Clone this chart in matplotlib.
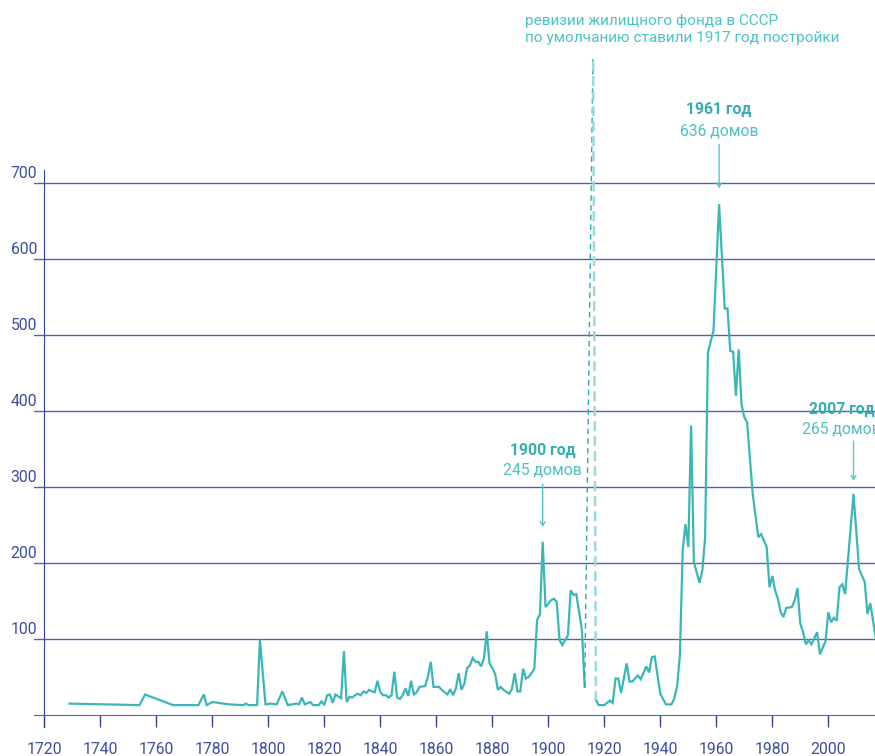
import numpy as np
import matplotlib
matplotlib.use("Agg")
import matplotlib.pyplot as plt
from matplotlib.transforms import ScaledTranslation

plt.rcParams['font.family'] = ['Roboto', 'DejaVu Sans']

# houses built per year, before the 1917 default-year spike
years_before = [1729, 1754, 1756, 1766, 1775, 1777, 1778, 1780, 1786, 1791, 1792, 1793,
                1796, 1797, 1799, 1801, 1803, 1805, 1807, 1810, 1811, 1812, 1813, 1815,
                1816, 1818, 1819, 1820, 1821, 1822, 1823, 1824, 1826, 1827, 1828, 1829,
                1830, 1831, 1832, 1833, 1834, 1835, 1836, 1837, 1838, 1839, 1840, 1841,
                1842, 1843, 1844, 1845, 1846, 1847, 1848, 1849, 1850, 1851, 1852, 1853,
                1854, 1856, 1857, 1858, 1859, 1861, 1862, 1864, 1865, 1866, 1867, 1868,
                1869, 1870, 1871, 1872, 1873, 1874, 1875, 1876, 1877, 1878, 1879, 1880,
                1881, 1882, 1883, 1884, 1886, 1887, 1888, 1889, 1890, 1891, 1892, 1893,
                1894, 1895, 1896, 1897, 1898, 1899, 1901, 1902, 1903, 1904, 1905, 1907,
                1908, 1909, 1910, 1912, 1913]
houses_before = [15, 13, 27, 13, 13, 27, 13, 17, 14, 13, 15, 13,
                 13, 99, 14, 15, 14, 31, 13, 15, 14, 23, 14, 17,
                 13, 13, 18, 13, 26, 27, 16, 27, 22, 84, 17, 24,
                 23, 26, 28, 26, 31, 29, 33, 31, 30, 45, 30, 26,
                 26, 23, 26, 57, 23, 21, 26, 35, 25, 45, 27, 30,
                 37, 38, 50, 70, 37, 37, 33, 27, 34, 26, 35, 55,
                 33, 41, 62, 65, 75, 70, 70, 64, 74, 110, 68, 62,
                 54, 33, 37, 33, 28, 34, 55, 31, 31, 61, 48, 50,
                 55, 61, 125, 132, 228, 142, 151, 153, 149, 99, 92, 105,
                 164, 158, 159, 112, 37]

# default year put by the soviet housing audits (goes off the chart)
spike_year = 1916
spike_houses = 880

years_after = [1917, 1918, 1920, 1922, 1923, 1924, 1925, 1926, 1928, 1929, 1930, 1932,
               1933, 1935, 1936, 1937, 1938, 1940, 1942, 1944, 1945, 1946, 1947, 1948,
               1949, 1950, 1951, 1952, 1954, 1955, 1956, 1957, 1959, 1961, 1963, 1964,
               1965, 1966, 1967, 1968, 1969, 1970, 1971, 1973, 1975, 1976, 1978, 1979,
               1980, 1981, 1982, 1983, 1984, 1985, 1987, 1988, 1989, 1990, 1991, 1992,
               1993, 1994, 1996, 1997, 1999, 2000, 2001, 2002, 2003, 2004, 2005, 2006,
               2009, 2011, 2013, 2014, 2015, 2017]
houses_after = [20, 13, 13, 19, 16, 48, 48, 29, 68, 44, 44, 52,
                47, 64, 56, 76, 77, 28, 14, 14, 22, 38, 79, 217,
                251, 221, 381, 201, 174, 190, 233, 477, 506, 672, 535, 535,
                479, 478, 420, 481, 409, 392, 385, 291, 234, 238, 221, 168,
                183, 164, 153, 135, 129, 141, 142, 151, 167, 120, 109, 93,
                98, 93, 109, 80, 97, 135, 122, 128, 124, 168, 172, 159,
                291, 192, 175, 133, 147, 100]

y_ticks = [100, 200, 300, 400, 500, 600, 700]
x_ticks = list(range(1720, 2001, 20))

peak_titles = ["1900 год", "1961 год", "2007 год"]
peak_counts = ["245 домов", "636 домов", "265 домов"]
peak_years = [1898, 1961, 2009]

note_lines = ["ревизии жилищного фонда в СССР",
              "по умолчанию ставили 1917 год постройки"]

teal = '#3bb6b8'
teal_text = '#4dc0c3'
teal_bold = '#35aeb2'
axis_blue = '#2f44a0'
grid_blue = '#5262b0'

fig = plt.figure(figsize=(8.75, 7.56), dpi=100)
ax = fig.add_axes([34 / 875, 1 - 715 / 756, 841 / 875, 658 / 756])

ax.plot(years_before, houses_before, color=teal, lw=1.6, solid_joinstyle='miter')
ax.plot(years_after, houses_after, color=teal, lw=1.6, solid_joinstyle='miter')
# the spike itself, dashed
ax.plot([years_before[-1], spike_year], [houses_before[-1], spike_houses],
        color='#2aaab0', lw=1, linestyle=(0, (4, 3)))
ax.plot([spike_year, years_after[0]], [spike_houses, houses_after[0]],
        color='#9bd9db', lw=1.8, linestyle=(0, (4, 2)))

ax.set_xlim(1720 - 10.3 / 2.8, 1720 + 830.7 / 2.8)
ax.set_ylim(0, 658 / 0.76)

for s in ['top', 'right']:
    ax.spines[s].set_visible(False)
ax.spines['left'].set_position(('data', 1720))
ax.spines['left'].set_bounds(-16, 717)
ax.spines['left'].set_color(axis_blue)
ax.spines['bottom'].set_color(grid_blue)

ax.set_yticks(y_ticks)
ax.grid(axis='y', color=grid_blue, lw=1)
ax.set_axisbelow(True)
ax.tick_params(axis='y', length=0, pad=5, labelsize=11.3, labelcolor='#3a4d9f')
shift = ScaledTranslation(0, 5 / 100, fig.dpi_scale_trans)
for lab in ax.get_yticklabels():
    lab.set_va('baseline')
    lab.set_transform(lab.get_transform() + shift)

ax.set_xticks(x_ticks)
ax.tick_params(axis='x', direction='out', length=8.6, width=1, color=axis_blue,
               pad=11, labelsize=11.3, labelcolor='#3a4d9f')

# peak annotations
offsets = [(0, 41.5, 10.6, 51.6, 66), (0, 43, 11.5, 53, 68), (-8.6, 38, 9.4, 47, 60.5)]
all_years = years_before + years_after
all_houses = houses_before + houses_after
for title, count, yr, off in zip(peak_titles, peak_counts, peak_years, offsets):
    val = all_houses[all_years.index(yr)]
    dx, a_start, a_shrink, dy_count, dy_title = off
    ax.annotate('', xy=(yr, val), xytext=(0, a_start), textcoords='offset points',
                arrowprops=dict(arrowstyle='->,head_length=0.3,head_width=0.18',
                                color='#5cc6c9', lw=1, shrinkA=0, shrinkB=a_shrink))
    ax.annotate(count, xy=(yr, val), xytext=(dx, dy_count), textcoords='offset points',
                ha='center', va='center', fontsize=11.3, color=teal_text,
                annotation_clip=False)
    ax.annotate(title, xy=(yr, val), xytext=(dx, dy_title), textcoords='offset points',
                ha='center', va='center', fontsize=11.3, fontweight='bold', color=teal_bold,
                annotation_clip=False)

fig.text(525 / 875, 1 - 29.5 / 756, "\n".join(note_lines), ha='left', va='center',
         fontsize=11.05, color='#4cc3c6', linespacing=1.25)

fig.savefig('out.png', dpi=100)
